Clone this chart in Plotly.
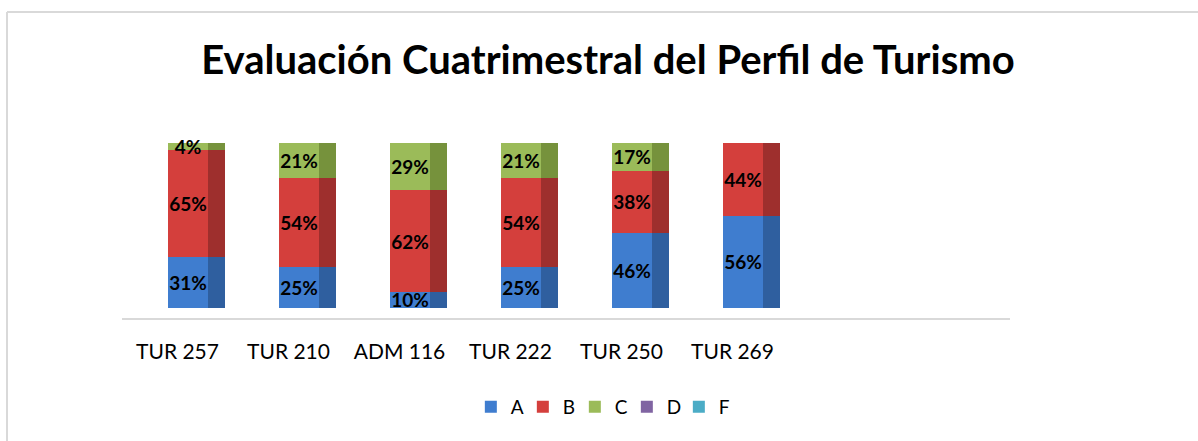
import plotly.graph_objects as go

categories = ["TUR 257", "TUR 210", "ADM 116", "TUR 222", "TUR 250", "TUR 269", " ", "  "]
series_names = ["A", "B", "C", "D", "F"]
A = [31, 25, 10, 25, 46, 56, None, None]
B = [65, 54, 62, 54, 38, 44, None, None]
C = [4, 21, 29, 21, 17, 0, None, None]
D = [0, 0, 0, 0, 0, 0, None, None]
F = [0, 0, 0, 0, 0, 0, None, None]
colors = ["#3f7dcf", "#d43f3c", "#9bbb59", "#8064a2", "#4bacc6"]
side_colors = ["#2f5f9f", "#9e2f2d", "#76923c", "#5f4b7a", "#31859c"]

W, H = 1198, 441
L, R, T, B_ = 122, 1010, 143, 318
FONT = "Lato, Carlito, sans-serif"

fig = go.Figure()
# darker side faces (3D look), on an overlaid axis so they stack separately
for name, vals, col in zip(series_names, [A, B, C, D, F], side_colors):
    fig.add_trace(go.Bar(
        x=categories, y=vals, name=name, xaxis="x2",
        marker=dict(color=col, line=dict(width=0)),
        width=0.15, offset=0.275, showlegend=False, hoverinfo="skip",
    ))
# front faces
for name, vals, col in zip(series_names, [A, B, C, D, F], colors):
    txt = [("%d%%" % v) if (v is not None and v > 0) else "" for v in vals]
    fig.add_trace(go.Bar(
        x=categories, y=vals, name=name,
        marker=dict(color=col, line=dict(width=0)),
        text=txt, textposition="inside", insidetextanchor="middle",
        textangle=0, constraintext="none", cliponaxis=False,
        textfont=dict(family=FONT, size=19, color="black", weight="bold"),
        width=0.37, offset=-0.09,
        hoverinfo="skip",
    ))

pw = R - L
ph = B_ - T
fig.update_layout(
    width=W, height=H,
    barmode="stack", barnorm="percent",
    paper_bgcolor="white", plot_bgcolor="white",
    margin=dict(l=L, r=W - R, t=T, b=H - B_, autoexpand=False),
    title=dict(text="<b>Evaluación Cuatrimestral del Perfil de Turismo</b>",
               x=608 / W, xanchor="center", y=1 - 60 / H, yanchor="middle",
               font=dict(family=FONT, size=40, color="black")),
    xaxis=dict(categoryorder="array", categoryarray=categories,
               range=[-0.5, 7.5], showline=True, linecolor="#d9d9d9", linewidth=2,
               showgrid=False, ticks="", ticklabelstandoff=14,
               tickfont=dict(family=FONT, size=21, color="black")),
    xaxis2=dict(categoryorder="array", categoryarray=categories,
                range=[-0.5, 7.5], overlaying="x", visible=False),
    yaxis=dict(range=[-6, 100], visible=False, showgrid=False),
    legend=dict(orientation="h", x=646 / W, xanchor="center",
                y=(B_ - 407) / ph, yanchor="middle",
                font=dict(family=FONT, size=19, color="black"),
                itemwidth=30, entrywidth=7, entrywidthmode="pixels",
                traceorder="normal", tracegroupgap=0),
    showlegend=True,
)

# chart border (top and left edges visible)
fig.add_shape(type="line", xref="paper", yref="paper",
              x0=(7 - L) / pw, x1=(W + 5 - L) / pw, y0=(B_ - 12) / ph, y1=(B_ - 12) / ph,
              line=dict(color="#d9d9d9", width=2))
fig.add_shape(type="line", xref="paper", yref="paper",
              x0=(7 - L) / pw, x1=(7 - L) / pw, y0=(B_ - 12) / ph, y1=(B_ - H - 5) / ph,
              line=dict(color="#d9d9d9", width=2))

fig.write_html("out.html", config={"displayModeBar": False},
               post_script="document.body.style.margin='0';document.body.style.overflow='hidden';")
